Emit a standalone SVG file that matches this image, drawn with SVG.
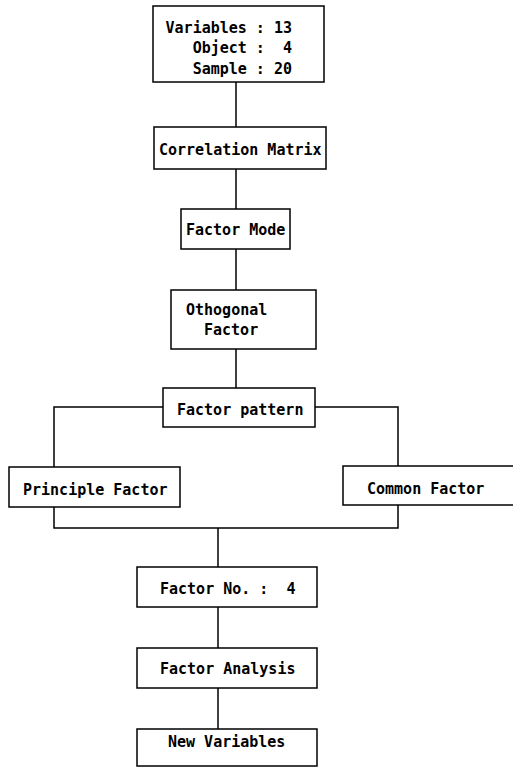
<svg xmlns="http://www.w3.org/2000/svg" width="513" height="770" viewBox="0 0 513 770">
<style>
rect{fill:#fff;stroke:#000;stroke-width:1.5}
.c path{fill:none;stroke:#000;stroke-width:1.5}
text{font-family:"DejaVu Sans Mono","Liberation Mono",monospace;font-weight:bold;font-size:15px;fill:#000}
</style>
<rect x="0" y="0" width="513" height="770" style="stroke:none"/>
<g class="c" id="connectors">
<path d="M236 82V127"/>
<path d="M236 169V209"/>
<path d="M236 249V290"/>
<path d="M236 349V388"/>
<path d="M163 407H54V467"/>
<path d="M315 407H398V466"/>
<path d="M54 507V528H398V505"/>
<path d="M218 528V567"/>
<path d="M218 607V648"/>
<path d="M218 688V729"/>
</g>
<g id="n1"><rect x="153" y="6" width="171" height="76"/>
<text x="292" y="33" text-anchor="end" xml:space="preserve">Variables : 13</text>
<text x="292" y="53" text-anchor="end" xml:space="preserve">Object :  4</text>
<text x="292" y="74" text-anchor="end" xml:space="preserve">Sample : 20</text></g>
<g id="n2"><rect x="154" y="127" width="172" height="42"/><text x="159" y="155">Correlation Matrix</text></g>
<g id="n3"><rect x="181" y="209" width="109" height="40"/><text x="186" y="235">Factor Mode</text></g>
<g id="n4"><rect x="171" y="290" width="145" height="59"/><text x="186" y="315">Othogonal</text><text x="204" y="335">Factor</text></g>
<g id="n5"><rect x="163" y="388" width="152" height="39"/><text x="177" y="415">Factor pattern</text></g>
<g id="n6"><rect x="9" y="467" width="171" height="40"/><text x="23" y="495">Principle Factor</text></g>
<g id="n7"><rect x="343" y="466" width="180" height="39"/><text x="367" y="494">Common Factor</text></g>
<g id="n8"><rect x="137" y="567" width="180" height="40"/><text x="160" y="594" xml:space="preserve">Factor No. :  4</text></g>
<g id="n9"><rect x="137" y="648" width="180" height="40"/><text x="160" y="674">Factor Analysis</text></g>
<g id="n10"><rect x="137" y="729" width="180" height="37"/><text x="168" y="747">New Variables</text></g>
</svg>
